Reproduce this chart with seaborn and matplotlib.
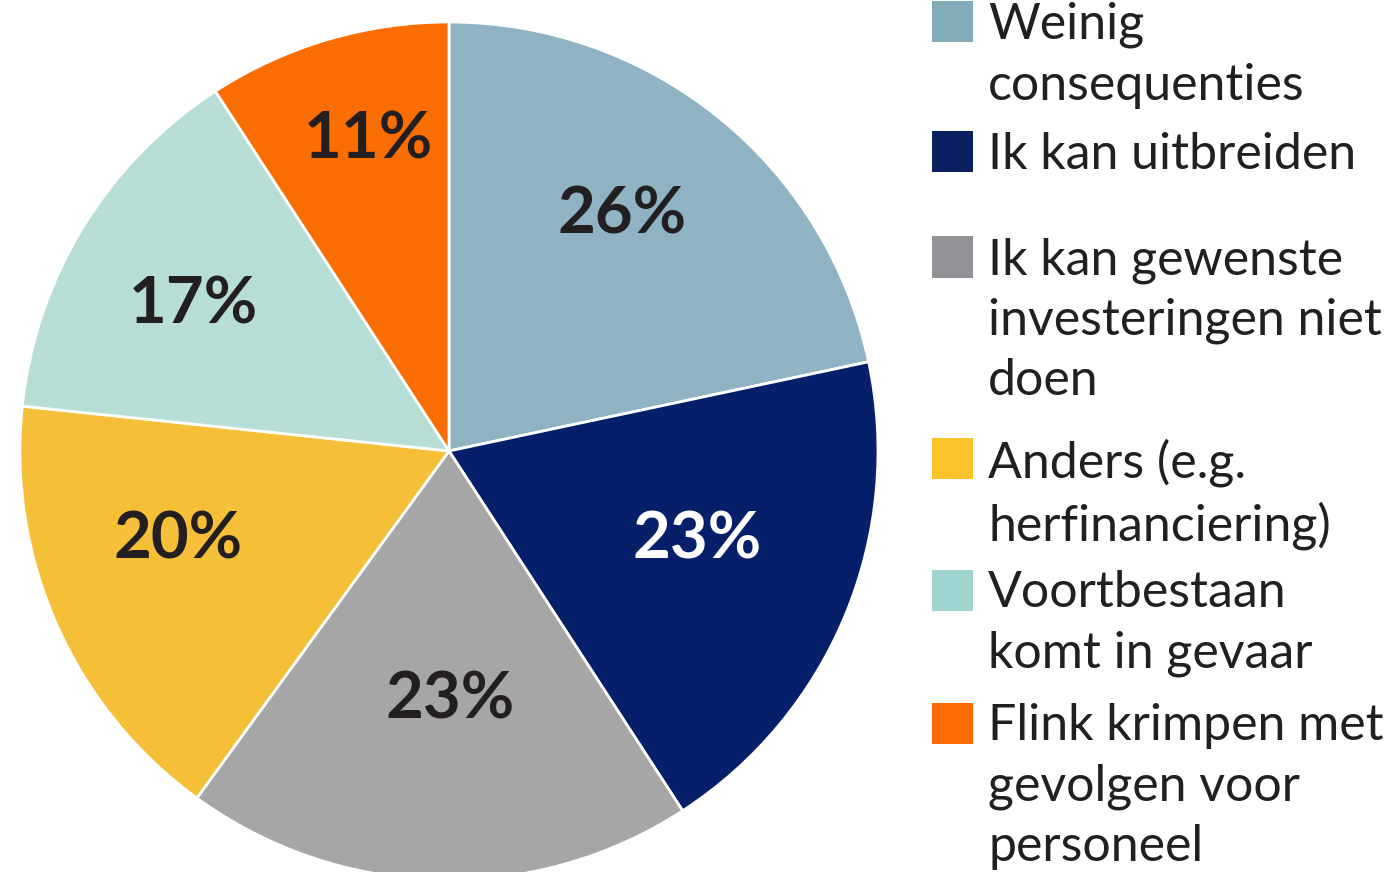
import numpy as np
import matplotlib
matplotlib.use("Agg")
import matplotlib.pyplot as plt
import seaborn as sns
from matplotlib.patches import Rectangle

# --- data ---
categories = [
    "Weinig\nconsequenties",
    "Ik kan uitbreiden",
    "Ik kan gewenste\ninvesteringen niet\ndoen",
    "Anders (e.g.\nherfinanciering)",
    "Voortbestaan\nkomt in gevaar",
    "Flink krimpen met\ngevolgen voor\npersoneel",
]
values = [26, 23, 23, 20, 17, 11]
pct_labels = ["26%", "23%", "23%", "20%", "17%", "11%"]
slice_colors = ["#8fb3c3", "#061f6b", "#a6a6a6", "#f5c038", "#b6ddd6", "#fa6d00"]
legend_colors = ["#82adb8", "#0a2063", "#929296", "#fbc22a", "#9dd4d0", "#ff6b00"]
label_colors = ["#231f20", "#ffffff", "#231f20", "#231f20", "#231f20", "#231f20"]

sns.set_theme(style="white")
plt.rcParams['font.family'] = ['Lato', 'DejaVu Sans']

W, H = 1391, 872
fig = plt.figure(figsize=(W / 100, H / 100), dpi=100)

# pie axes: center (449, 451) px, radius 429 px
cx, cy, R = 449, 451, 429
ax = fig.add_axes([(cx - R) / W, (H - cy - R) / H, 2 * R / W, 2 * R / H])
wedges, _ = ax.pie(values, colors=slice_colors, startangle=90, counterclock=False,
                   radius=1, wedgeprops=dict(edgecolor="white", linewidth=2))
ax.set_xlim(-1, 1)
ax.set_ylim(-1, 1)
ax.set_aspect("equal")
ax.axis("off")

# percentage labels inside slices (distance from centre, small angle shift)
label_dist = [0.682, 0.614, 0.58, 0.665, 0.687, 0.749]
label_shift = [2.8, 2.8, 1.7, -5.8, 1.8, -1.9]
for w, txt, col, d, s in zip(wedges, pct_labels, label_colors, label_dist, label_shift):
    ang = np.deg2rad((w.theta1 + w.theta2) / 2 + s)
    ax.text(d * np.cos(ang), d * np.sin(ang), txt, ha="center", va="center",
            fontsize=47, fontweight="bold", color=col)

# legend on the right (manual, to keep the wrapped labels)
first_line_y = [22, 152, 257, 458, 590, 723]
sq = 41
for lab, col, yc in zip(categories, legend_colors, first_line_y):
    fig.patches.append(Rectangle((932 / W, (H - yc - sq / 2) / H), sq / W, sq / H,
                                 transform=fig.transFigure, facecolor=col,
                                 edgecolor="none"))
    fig.text(988 / W, (H - yc + 20) / H, lab, ha="left", va="top",
             fontsize=36, color="#231f20", linespacing=1.38)

fig.savefig("out.png", dpi=100, facecolor="white")
